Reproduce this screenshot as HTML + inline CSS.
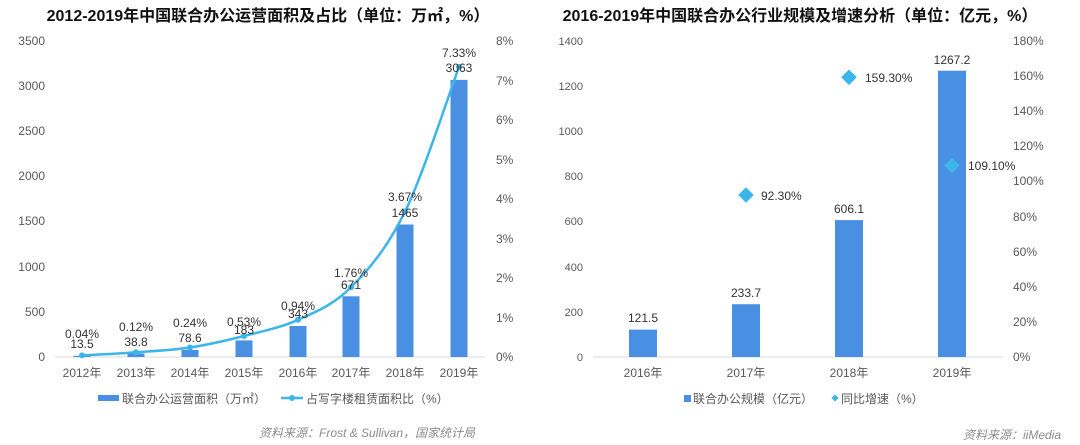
<!DOCTYPE html>
<html><head><meta charset="utf-8"><style>
body{margin:0;background:#fff;}
svg{display:block;font-family:"Liberation Sans","Noto Sans CJK SC",sans-serif;}
</style></head><body>
<svg width="1080" height="445" viewBox="0 0 1080 445">
<rect width="1080" height="445" fill="#fff"/>
<!-- LEFT CHART -->
<text x="268" y="21" text-anchor="middle" font-size="16" font-weight="bold" fill="#111">2012-2019年中国联合办公运营面积及占比（单位：万㎡，%）</text>
<g font-size="12" fill="#595959" text-anchor="end">
<text x="45" y="361">0</text><text x="45" y="316">500</text><text x="45" y="271">1000</text><text x="45" y="225">1500</text><text x="45" y="180">2000</text><text x="45" y="135">2500</text><text x="45" y="90">3000</text><text x="45" y="45">3500</text>
</g>
<g font-size="12" fill="#595959">
<text x="496" y="361">0%</text><text x="496" y="322">1%</text><text x="496" y="282">2%</text><text x="496" y="243">3%</text><text x="496" y="203">4%</text><text x="496" y="164">5%</text><text x="496" y="124">6%</text><text x="496" y="85">7%</text><text x="496" y="45">8%</text>
</g>
<line x1="55" y1="357" x2="485" y2="357" stroke="#d9d9d9"/>
<g fill="#4a90e2">
<rect x="73.5" y="355.8" width="17" height="1.2"/>
<rect x="127.5" y="353.5" width="17" height="3.5"/>
<rect x="181.5" y="349.9" width="17" height="7.1"/>
<rect x="235.5" y="340.4" width="17" height="16.6"/>
<rect x="289.5" y="326" width="17" height="31"/>
<rect x="342.5" y="296.3" width="17" height="60.7"/>
<rect x="396.5" y="224.5" width="17" height="132.5"/>
<rect x="450.5" y="79.9" width="17" height="277.1"/>
</g>
<path d="M82,355.4 C91,354.9 118,353.6 136,352.3 C154,351 172,350.2 190,347.5 C208,344.8 226,340.6 244,336 C262,331.4 280,327.9 298,319.8 C316,311.7 333,305.3 351,287.3 C369,269.3 387,248.4 405,211.7 C423,175 450,91 459,66.9" fill="none" stroke="#3bb5ea" stroke-width="2.5"/>
<g fill="#3bb5ea">
<circle cx="82" cy="355.4" r="3"/><circle cx="136" cy="352.3" r="3"/><circle cx="190" cy="347.5" r="3"/><circle cx="244" cy="336" r="3"/><circle cx="298" cy="319.8" r="3"/><circle cx="351" cy="287.3" r="3"/><circle cx="405" cy="211.7" r="3"/><circle cx="459" cy="66.9" r="3"/>
</g>
<g font-size="12" fill="#333" text-anchor="middle">
<text x="82" y="338">0.04%</text><text x="82" y="348">13.5</text>
<text x="136" y="331">0.12%</text><text x="136" y="346">38.8</text>
<text x="190" y="327">0.24%</text><text x="190" y="342">78.6</text>
<text x="244" y="326">0.53%</text><text x="244" y="334">183</text>
<text x="298" y="310">0.94%</text><text x="298" y="318">343</text>
<text x="351" y="277">1.76%</text><text x="351" y="289">671</text>
<text x="405" y="201">3.67%</text><text x="405" y="217">1465</text>
<text x="459" y="57">7.33%</text><text x="459" y="72">3063</text>
</g>
<g font-size="12" fill="#595959" text-anchor="middle">
<text x="82" y="377">2012年</text><text x="136" y="377">2013年</text><text x="190" y="377">2014年</text><text x="244" y="377">2015年</text><text x="298" y="377">2016年</text><text x="351" y="377">2017年</text><text x="405" y="377">2018年</text><text x="459" y="377">2019年</text>
</g>
<rect x="98" y="395" width="21" height="6" fill="#4a90e2"/>
<text x="122" y="403" font-size="12" fill="#595959">联合办公运营面积（万㎡）</text>
<line x1="281" y1="398" x2="303" y2="398" stroke="#3bb5ea" stroke-width="2.5"/><circle cx="292" cy="398" r="3" fill="#3bb5ea"/>
<text x="306" y="403" font-size="12" fill="#595959">占写字楼租赁面积比（%）</text>
<text x="259" y="437" font-size="12" font-style="italic" fill="#8c8c8c">资料来源：Frost &amp; Sullivan，国家统计局</text>

<!-- RIGHT CHART -->
<text x="800" y="21" text-anchor="middle" font-size="16" font-weight="bold" fill="#111">2016-2019年中国联合办公行业规模及增速分析（单位：亿元，%）</text>
<g font-size="11" fill="#595959" text-anchor="end">
<text x="583" y="361">0</text><text x="583" y="316">200</text><text x="583" y="271">400</text><text x="583" y="225">600</text><text x="583" y="180">800</text><text x="583" y="135">1000</text><text x="583" y="90">1200</text><text x="583" y="45">1400</text>
</g>
<g font-size="12" fill="#595959">
<text x="1013" y="361">0%</text><text x="1013" y="326">20%</text><text x="1013" y="291">40%</text><text x="1013" y="256">60%</text><text x="1013" y="221">80%</text><text x="1013" y="185">100%</text><text x="1013" y="150">120%</text><text x="1013" y="115">140%</text><text x="1013" y="80">160%</text><text x="1013" y="45">180%</text>
</g>
<line x1="593" y1="357" x2="1003" y2="357" stroke="#d9d9d9"/>
<g fill="#4a90e2">
<rect x="629" y="329.6" width="28" height="27.4"/>
<rect x="732" y="304.2" width="28" height="52.8"/>
<rect x="835" y="220.1" width="28" height="136.9"/>
<rect x="938" y="70.7" width="28" height="286.3"/>
</g>
<g font-size="12" fill="#333" text-anchor="middle">
<text x="643" y="322">121.5</text><text x="746" y="297">233.7</text><text x="849" y="213">606.1</text><text x="952" y="64">1267.2</text>
</g>
<g fill="#3bb5ea">
<rect x="-5.5" y="-5.5" width="11" height="11" transform="translate(746,195) rotate(45)"/>
<rect x="-5.5" y="-5.5" width="11" height="11" transform="translate(849,77.3) rotate(45)"/>
<rect x="-5.5" y="-5.5" width="11" height="11" transform="translate(952,165.5) rotate(45)"/>
</g>
<g font-size="12" fill="#333">
<text x="761" y="200">92.30%</text><text x="865" y="82">159.30%</text><text x="968" y="170">109.10%</text>
</g>
<g font-size="12" fill="#595959" text-anchor="middle">
<text x="643" y="377">2016年</text><text x="746" y="377">2017年</text><text x="849" y="377">2018年</text><text x="952" y="377">2019年</text>
</g>
<rect x="684" y="395" width="7" height="7" fill="#4a90e2"/>
<text x="693" y="403" font-size="12" fill="#595959">联合办公规模（亿元）</text>
<rect x="-2.5" y="-2.5" width="5" height="5" fill="#3bb5ea" transform="translate(835,398) rotate(45)"/>
<text x="841" y="403" font-size="12" fill="#595959">同比增速（%）</text>
<text x="963" y="439" font-size="12" font-style="italic" fill="#8c8c8c">资料来源：iiMedia</text>
</svg>
</body></html>
